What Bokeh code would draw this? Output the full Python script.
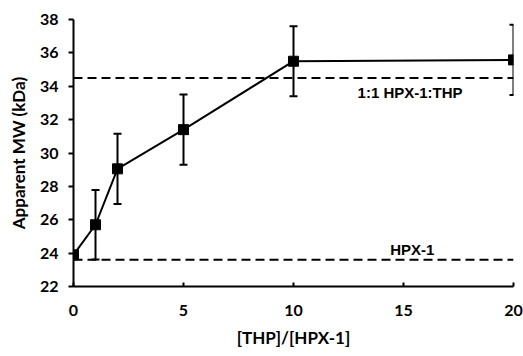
from bokeh.plotting import figure
from bokeh.models import ColumnDataSource, Whisker, TeeHead, Range1d, FixedTicker, Label
from bokeh.embed import file_html
from bokeh.resources import INLINE

ratio = [0, 1, 2, 5, 10, 20]
mw = [23.9, 25.7, 29.05, 31.4, 35.5, 35.58]
err = [0.0, 2.08, 2.1, 2.1, 2.1, 2.1]
complex_mw = 34.5
monomer_mw = 23.6
x_ticks = [0, 5, 10, 15, 20]
y_ticks = [22, 24, 26, 28, 30, 32, 34, 36, 38]

src = ColumnDataSource(dict(
    x=ratio, y=mw,
    upper=[m + e for m, e in zip(mw, err)],
    lower=[m - e for m, e in zip(mw, err)],
))

p = figure(width=523, height=356, output_backend="svg", toolbar_location=None,
           x_range=Range1d(0, 20), y_range=Range1d(22, 38),
           min_border_left=73, min_border_right=10, min_border_top=19, min_border_bottom=70)
p.outline_line_color = None
p.xgrid.visible = False
p.ygrid.visible = False

# reference lines
p.line(x=[0, 20], y=[complex_mw, complex_mw], line_color="black", line_width=2, line_dash="9 5")
p.line(x=[0, 20], y=[monomer_mw, monomer_mw], line_color="black", line_width=2, line_dash="9 5")

p.line("x", "y", source=src, line_color="black", line_width=2)
w = Whisker(source=src, base="x", upper="upper", lower="lower", line_color="black", line_width=2,
            upper_head=TeeHead(size=8, line_color="black", line_width=2),
            lower_head=TeeHead(size=8, line_color="black", line_width=2))
p.add_layout(w)
p.scatter("x", "y", source=src, marker="square", size=10, color="black")

p.add_layout(Label(x=15.3, y=33.6, text="1:1 HPX-1:THP", text_align="center", text_baseline="middle",
                   text_font="Liberation Sans", text_font_style="bold", text_font_size="15px",
                   text_color="black"))
p.add_layout(Label(x=15.4, y=24.2, text="HPX-1", text_align="center", text_baseline="middle",
                   text_font="Liberation Sans", text_font_style="bold", text_font_size="15px",
                   text_color="black"))

for ax in (p.xaxis, p.yaxis):
    ax.axis_line_width = 2
    ax.axis_line_color = "black"
    ax.major_tick_line_width = 2
    ax.major_tick_line_color = "black"
    ax.minor_tick_line_color = None
    ax.major_label_text_font = "Lato"
    ax.major_label_text_font_style = "bold"
    ax.major_label_text_font_size = "16px"
    ax.major_label_text_color = "black"
    ax.axis_label_text_font = "Lato"
    ax.axis_label_text_font_style = "bold"
    ax.axis_label_text_font_size = "17px"
    ax.axis_label_text_color = "black"

p.xaxis.ticker = FixedTicker(ticks=x_ticks)
p.yaxis.ticker = FixedTicker(ticks=y_ticks)
p.xaxis.major_tick_in = 4
p.xaxis.major_tick_out = 0
p.yaxis.major_tick_in = 0
p.yaxis.major_tick_out = 5
p.xaxis.major_label_standoff = 18
p.yaxis.major_label_standoff = 10
p.xaxis.axis_label = "[THP]/[HPX-1]"
p.yaxis.axis_label = "Apparent MW (kDa)"
p.xaxis.axis_label_standoff = 8
p.yaxis.axis_label_standoff = 8

open("out.html", "w").write(file_html(p, INLINE))
